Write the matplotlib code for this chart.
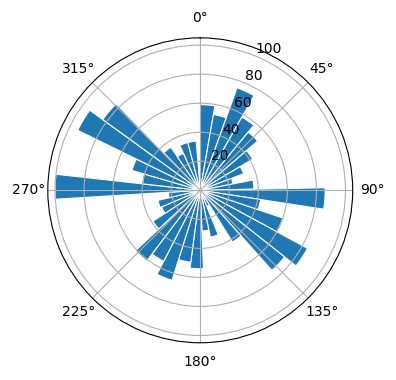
import numpy as np
import matplotlib
matplotlib.use("Agg")
import matplotlib.pyplot as plt

# counts per direction bin, clockwise from north
counts = [59, 53, 75, 58, 52, 42, 32, 23, 37,
          86, 42, 60, 84, 74, 42, 12, 33, 28,
          54, 50, 65, 55, 61, 39, 29, 30, 22,
          100, 40, 49, 94, 83, 36, 28, 34, 34]
range_deg = 355.3  # bins span the data range, not the full circle

edges = np.deg2rad(np.linspace(0, range_deg, len(counts) + 1))

fig = plt.figure(figsize=(3.96, 3.8), dpi=100)
ax = fig.add_axes([0.1207, 0.0979, 0.770, 0.8026], projection='polar')
ax.set_theta_zero_location('N')
ax.set_theta_direction(-1)
ax.bar(edges[:-1], counts, width=np.diff(edges), align='edge',
       color='#1f77b4', edgecolor='white', linewidth=0.8)
ax.set_ylim(0, 105)
ax.set_rticks([20, 40, 60, 80, 100])

fig.savefig('out.png', dpi=100)
